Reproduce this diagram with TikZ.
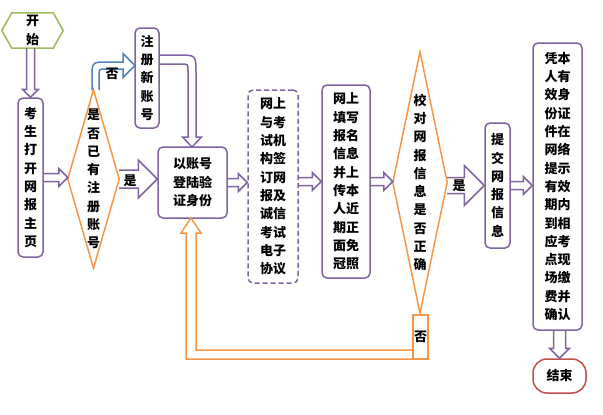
\documentclass[tikz,border=0pt]{standalone}
\usepackage{fontspec}
\setmainfont{Noto Sans CJK SC}
\usetikzlibrary{calc}
\definecolor{fpurple}{RGB}{128,100,162}
\definecolor{forange}{RGB}{247,150,70}
\definecolor{fgreen}{RGB}{155,187,89}
\definecolor{fblue}{RGB}{79,129,189}
\definecolor{fred}{RGB}{192,80,77}
\newcommand\zhfont{\fontsize{13}{18.3}\selectfont\bfseries}
\tikzset{
  txt/.style={align=center, inner sep=0pt, font=\zhfont},
  box/.style={txt, draw=fpurple, line width=1.5pt, rounded corners=5pt},
  dbox/.style={box, dash pattern=on 5pt off 3pt},
  ebox/.style={txt, draw=fred, line width=1.5pt, rounded corners=14pt},
  obox/.style={txt, draw=forange, line width=1.5pt},
  dline/.style={forange, line width=1.5pt, line join=miter},
  sline/.style={fgreen, line width=1.5pt},
  parr/.style={fpurple, line width=1.5pt, line join=miter},
  oarr/.style={forange, line width=1.5pt, line join=miter},
  barr/.style={fblue, line width=1.5pt, line join=miter},
}
% hollow block arrows: from, to, shaft half width, head half width
\newcommand\blkright[5][parr]{\draw[#1] let \p1=(#2), \p2=(#3) in
  (\x1,\y1+#4pt) -- (\x2-#5pt,\y1+#4pt) -- (\x2-#5pt,\y1+#5pt) -- (\x2,\y1)
  -- (\x2-#5pt,\y1-#5pt) -- (\x2-#5pt,\y1-#4pt) -- (\x1,\y1-#4pt);}
\newcommand\blkdown[5][parr]{\draw[#1] let \p1=(#2), \p2=(#3) in
  (\x1-#4pt,\y1) -- (\x1-#4pt,\y2+#5pt) -- (\x1-#5pt,\y2+#5pt) -- (\x1,\y2)
  -- (\x1+#5pt,\y2+#5pt) -- (\x1+#4pt,\y2+#5pt) -- (\x1+#4pt,\y1);}
\begin{document}
\begin{tikzpicture}[x=1pt, y=-1pt]
 \useasboundingbox (0,0) rectangle (603,415);
 % nodes
 \node[txt, minimum width=41pt, minimum height=35pt] (start) at (32.5,30.5) {开\\始};
 \node[box, minimum width=25pt, minimum height=159pt] (open) at (30.5,177.5) {考\\生\\打\\开\\网\\报\\主\\页};
 \node[txt, minimum width=51pt, minimum height=178pt] (j1) at (93.5,179) {是\\否\\已\\有\\注\\册\\账\\号};
 \node[box, minimum width=24pt, minimum height=100pt] (newacc) at (147,78) {注\\册\\新\\账\\号};
 \node[box, minimum width=69pt, minimum height=71pt] (login) at (192.5,182.5) {以账号\\登陆验\\证身份};
 \node[dbox, minimum width=50pt, minimum height=193pt] (sign) at (273,186.5) {网上\\与考\\试机\\构签\\订网\\报及\\诚信\\考试\\电子\\协议};
 \node[box, minimum width=48pt, minimum height=193pt] (fill) at (346,181.5) {网上\\填写\\报名\\信息\\并上\\传本\\人近\\期正\\面免\\冠照};
 \node[txt, minimum width=54pt, minimum height=261pt] (j2) at (420,182.5) {校\\对\\网\\报\\信\\息\\是\\否\\正\\确};
 \node[box, minimum width=25pt, minimum height=125pt] (submit) at (497.5,185.5) {提\\交\\网\\报\\信\\息};
 \node[box, minimum width=49pt, minimum height=287pt] (pay) at (557.5,186.5) {凭本\\人有\\效身\\份证\\件在\\网络\\提示\\有效\\期内\\到相\\应考\\点现\\场缴\\费并\\确认};
 \node[ebox, minimum width=53pt, minimum height=34pt] (stop) at (559.5,376) {结束};
 \node[obox, minimum width=15pt, minimum height=44pt] (no) at (420.5,337) {否};
 % outlines
 \draw[sline] (start.north west) -- (start.north east) -- ($(start.east)+(10,0)$)
   -- (start.south east) -- (start.south west) -- ($(start.west)+(-10,0)$) -- cycle;
 \draw[dline] (j1.north) -- (j1.east) -- (j1.south) -- (j1.west) -- cycle;
 \draw[dline] (j2.north) -- (j2.east) -- (j2.south) -- (j2.west) -- cycle;
 % straight arrows
 \blkdown{start.south -| open.north}{open.north}{4}{8}
 \blkright{open.east}{j1.west}{4}{9}
 \blkright{j1.east}{login.west}{9}{19}
 \blkright{login.east}{sign.west}{4}{9}
 \blkright{sign.east |- fill.west}{fill.west}{4}{9}
 \blkright{fill.east}{j2.west}{4}{9}
 \blkright{j2.east |- submit.west}{submit.west}{8}{20}
 \blkright{submit.east}{pay.west}{4}{9}
 \blkdown{pay.south -| stop.north}{stop.north}{6}{10}
 \node[txt] (yes1) at (130,181) {是};
 \node[txt] (yes2) at (459,186) {是};
 % bent arrows
 \draw[barr] (92,90) -- (92,78) .. controls (92,62) .. (108,62) -- (123,62) -- (123,53.5)
   -- (135,65.5) -- (123,77.5) -- (123,69) -- (106,69) .. controls (99,69) .. (99,76) -- (99,90);
 \node[txt] (no1) at (112,74) {否};
 \draw[parr] (159,55) -- (178,55) .. controls (196,55) .. (196,73) -- (196,137) -- (201.5,137)
   -- (192,147) -- (182.5,137) -- (188,137) -- (188,71) .. controls (188,64) .. (181,64) -- (159,64);
 \draw[oarr] (413,350) -- (196,350) -- (196,233) -- (201,233) -- (191,218) -- (181,233)
   -- (186,233) -- (186,359) -- (413,359);
\end{tikzpicture}
\end{document}
